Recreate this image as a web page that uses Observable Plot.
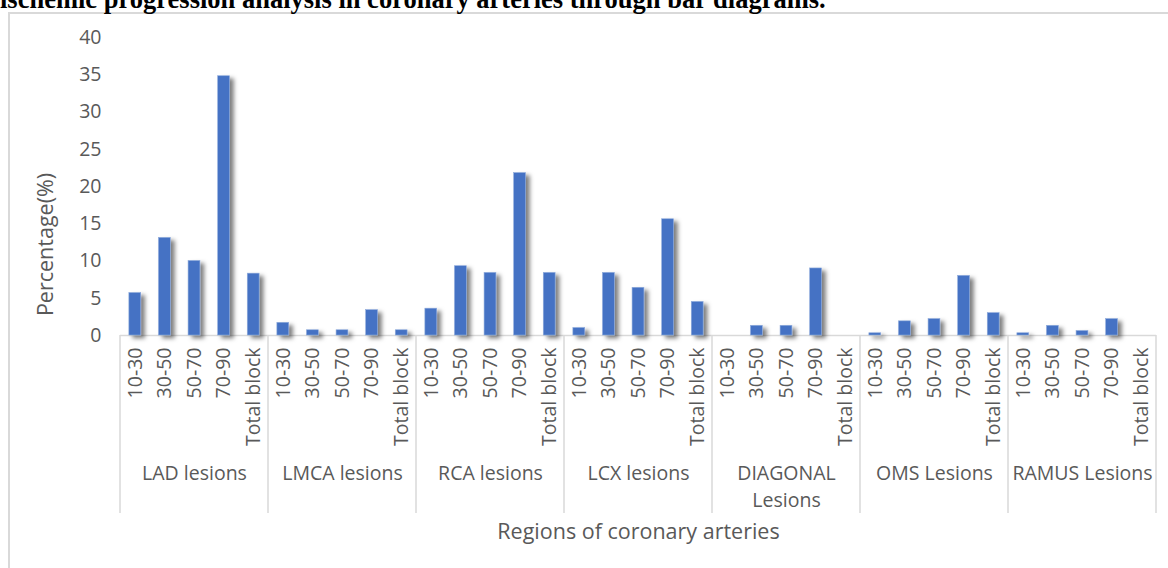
<!DOCTYPE html>
<html>
<head>
<meta charset="utf-8">
<script src="https://cdn.jsdelivr.net/npm/d3@7"></script>
<script src="https://cdn.jsdelivr.net/npm/@observablehq/plot@0.6"></script>
<style>
  html, body { margin: 0; padding: 0; background: #fff; width: 1168px; height: 568px; overflow: hidden; }
  #title {
    position: absolute; left: 0; top: -14px; white-space: nowrap; color: #000;
    font: bold 26.5px/1 "Liberation Serif", "Times New Roman", serif;
  }
  #frame {
    position: absolute; left: 8px; top: 12px; width: 1200px; height: 600px;
    border-left: 2px solid #d9d9d9; border-top: 2px solid #d9d9d9;
  }
  #chart { position: absolute; left: 0; top: 0; }
</style>
</head>
<body>
<div id="frame"></div>
<div id="title">ischemic progression analysis in coronary arteries through bar diagrams.</div>
<div id="chart"></div>
<script>
// Lesion groups (outer category) and stenosis ranges (inner category)
const groups = ["LAD lesions", "LMCA lesions", "RCA lesions", "LCX lesions", "DIAGONAL Lesions", "OMS Lesions", "RAMUS Lesions"];
const groupLabels = ["LAD lesions", "LMCA lesions", "RCA lesions", "LCX lesions", "DIAGONAL\nLesions", "OMS Lesions", "RAMUS Lesions"];
const ranges = ["10-30", "30-50", "50-70", "70-90", "Total block"];

// Percentage of patients per range, one array per lesion group
const lad      = [5.7, 13.1, 10.0, 34.8, 8.3];
const lmca     = [1.7, 0.7, 0.7, 3.4, 0.7];
const rca      = [3.6, 9.3, 8.4, 21.8, 8.4];
const lcx      = [1.0, 8.4, 6.4, 15.6, 4.5];
const diagonal = [0, 1.3, 1.3, 9.0, 0];
const oms      = [0.3, 1.9, 2.2, 8.0, 3.0];
const ramus    = [0.3, 1.3, 0.6, 2.2, 0];
const seriesByGroup = [lad, lmca, rca, lcx, diagonal, oms, ramus];

const yTicks = [0, 5, 10, 15, 20, 25, 30, 35, 40];
const yTitle = "Percentage(%)";
const xTitle = "Regions of coronary arteries";

const keyOf = (g, r) => `${g}|${r}`;
const rows = groups.flatMap((g, gi) =>
  ranges.map((r, ri) => ({group: g, range: r, key: keyOf(g, r), value: seriesByGroup[gi][ri]}))
);
const rangeOfKey = new Map(rows.map(d => [d.key, d.range]));
// group captions sit under the middle range of each group
const groupRows = groups.map((g, gi) => ({key: keyOf(g, ranges[2]), label: groupLabels[gi]}));

const W = 1168, H = 568;
const ML = 120, MR = 12, MT = 37, MB = 233;
const ink = "#595959";
const gridGray = "#d9d9d9";

const plot = Plot.plot({
  width: W, height: H,
  marginLeft: ML, marginRight: MR, marginTop: MT, marginBottom: MB,
  style: {fontFamily: '"Open Sans", sans-serif', fontSize: "19.5px", color: ink, background: "transparent"},
  x: {domain: rows.map(d => d.key), paddingInner: 0.6, paddingOuter: 0.3, round: false, label: null},
  y: {domain: [0, 40], label: null},
  marks: [
    Plot.axisY({ticks: yTicks, tickSize: 0, tickPadding: 19, label: null, fill: ink}),
    Plot.axisX({tickRotate: -90, tickSize: 0, tickPadding: 12, tickFormat: k => rangeOfKey.get(k), label: null, fill: ink}),
    Plot.ruleY([0], {stroke: gridGray, strokeWidth: 1.5}),
    Plot.barY(rows, {x: "key", y: "value", fill: "#4472C4", stroke: "#8eaadb", strokeWidth: 0.6}),
    Plot.text(groupRows, {x: "key", text: "label", frameAnchor: "bottom", dy: 125, lineAnchor: "top", lineHeight: 1.4, fill: ink}),
    Plot.text([xTitle], {text: d => d, frameAnchor: "bottom", dy: 197, lineAnchor: "middle", fontSize: 21.5, fill: ink}),
    Plot.text([yTitle], {text: d => d, frameAnchor: "left", dx: -74, dy: 58, rotate: -90, lineAnchor: "middle", textAnchor: "middle", fontSize: 21.5, fill: ink})
  ]
});

const svg = d3.select(plot);

// soft drop shadow behind the bars
const filter = svg.insert("defs", ":first-child").append("filter")
  .attr("id", "barShadow").attr("x", "-20%").attr("y", "-20%").attr("width", "140%").attr("height", "140%");
filter.append("feDropShadow")
  .attr("dx", 4).attr("dy", 3).attr("stdDeviation", 2.2)
  .attr("flood-color", "#000").attr("flood-opacity", 0.5);
svg.select('g[aria-label="bar"]').attr("filter", "url(#barShadow)");

// vertical separators between lesion groups in the category axis
const xs = plot.scale("x"), ys = plot.scale("y");
const step = xs.apply(rows[1].key) - xs.apply(rows[0].key);
const gap = step - xs.bandwidth;
const bounds = groups.map(g => xs.apply(keyOf(g, ranges[0])) - gap / 2);
bounds.push(xs.apply(keyOf(groups[groups.length - 1], ranges[ranges.length - 1])) + xs.bandwidth + gap / 2);
const y0 = ys.apply(0);
svg.append("g").attr("aria-label", "group separators")
  .selectAll("line").data(bounds).join("line")
  .attr("x1", d => d).attr("x2", d => d)
  .attr("y1", y0).attr("y2", y0 + 178)
  .attr("stroke", gridGray).attr("stroke-width", 1.5);

document.getElementById("chart").appendChild(plot);
</script>
</body>
</html>
